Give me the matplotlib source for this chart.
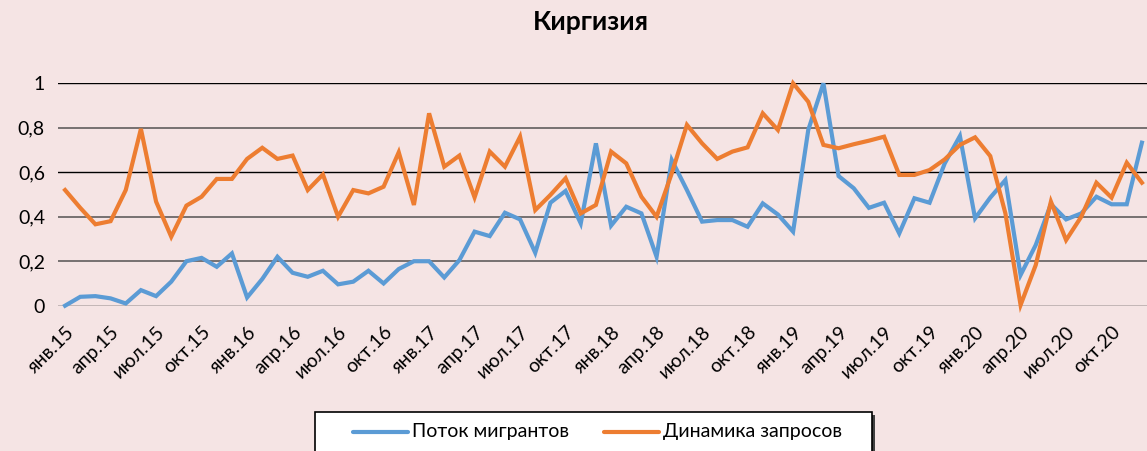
import matplotlib
matplotlib.use("Agg")
import matplotlib.pyplot as plt
import matplotlib.transforms as mtransforms
from matplotlib.patches import Rectangle
from matplotlib.lines import Line2D

plt.rcParams['font.family'] = ['Lato', 'DejaVu Sans']

title = "Киргизия"
series_names = ["Поток мигрантов", "Динамика запросов"]
month_abbr = ["янв", "фев", "мар", "апр", "май", "июн",
              "июл", "авг", "сен", "окт", "ноя", "дек"]
years = ["15", "16", "17", "18", "19", "20"]

migrants = [0.00, 0.04, 0.043, 0.033, 0.01, 0.07, 0.043, 0.108, 0.20, 0.215, 0.175, 0.235,
            0.037, 0.12, 0.22, 0.148, 0.13, 0.157, 0.096, 0.108, 0.157, 0.10, 0.165, 0.20,
            0.20, 0.127, 0.205, 0.333, 0.313, 0.418, 0.388, 0.238, 0.463, 0.516, 0.37, 0.73,
            0.36, 0.445, 0.415, 0.22, 0.655, 0.52, 0.378, 0.385, 0.385, 0.355, 0.46, 0.41,
            0.333, 0.79, 1.00, 0.583, 0.528, 0.44, 0.463, 0.325, 0.483, 0.463, 0.64, 0.763,
            0.393, 0.486, 0.565, 0.138, 0.273, 0.457, 0.388, 0.415, 0.49, 0.456, 0.456, 0.733]

queries = [0.52, 0.44, 0.366, 0.38, 0.52, 0.795, 0.468, 0.31, 0.45, 0.49, 0.57, 0.57,
           0.66, 0.71, 0.66, 0.675, 0.52, 0.59, 0.40, 0.52, 0.505, 0.535, 0.69, 0.453,
           0.865, 0.625, 0.675, 0.487, 0.693, 0.625, 0.76, 0.43, 0.498, 0.573, 0.415, 0.453,
           0.693, 0.64, 0.49, 0.40, 0.595, 0.813, 0.73, 0.66, 0.693, 0.712, 0.865, 0.79,
           1.00, 0.917, 0.723, 0.708, 0.726, 0.742, 0.76, 0.588, 0.588, 0.61, 0.658, 0.723,
           0.757, 0.673, 0.415, 0.003, 0.183, 0.468, 0.295, 0.40, 0.553, 0.486, 0.643, 0.553]

yticks = [0, 0.2, 0.4, 0.6, 0.8, 1.0]
ytick_labels = ["0", "0,2", "0,4", "0,6", "0,8", "1"]

bg = "#F5E4E4"
blue = "#5B9BD5"
orange = "#ED7D31"

W, H = 1147, 451
fig = plt.figure(figsize=(W / 100, H / 100), dpi=100, facecolor=bg)
ax = fig.add_axes([57.5 / W, (H - 305.7) / H, 1092 / W, (305.7 - 83.3) / H])
ax.set_facecolor(bg)

x = list(range(len(migrants)))
ax.plot(x, migrants, color=blue, lw=3.0, solid_joinstyle='miter', clip_on=False, zorder=3)
ax.plot(x, queries, color=orange, lw=3.0, solid_joinstyle='miter', clip_on=False, zorder=4)

ax.set_xlim(-0.5, len(migrants) - 0.5)
ax.set_ylim(0, 1)

for s in ax.spines.values():
    s.set_visible(False)
ax.set_yticks(yticks)
ax.set_yticklabels(ytick_labels)
ax.tick_params(axis='y', length=0, pad=9, labelsize=14)
for yv in yticks[1:]:
    if yv in (0.6, 1.0):
        ax.axhline(yv, color="black", lw=1.0, zorder=1)
    else:
        ax.axhline(yv, color="#767070", lw=1.4, zorder=1)
ax.axhline(0, color="black", lw=1.0, zorder=2)

xt = list(range(0, len(migrants), 3))
xlabels = [f"{month_abbr[i % 12]}.{years[i // 12]}" for i in xt]
ax.set_xticks(xt)
ax.set_xticklabels(xlabels, rotation=45, ha='right', va='center', rotation_mode='anchor')
ax.tick_params(axis='x', length=0, pad=17, labelsize=14)
offset = mtransforms.ScaledTranslation(6 / 100, 0, fig.dpi_scale_trans)
for lbl in ax.get_xticklabels():
    lbl.set_transform(lbl.get_transform() + offset)

fig.text(591 / W, 1 - 22 / H, title, ha='center', va='center', fontsize=19, fontweight='bold')

# legend box
lx0, lx1, ly0 = 315, 872, 411.7
shadow = Rectangle((lx0 / W + 3 / W, 0 - 0.01), (lx1 - lx0) / W, (H - ly0 - 3) / H + 0.01,
                   transform=fig.transFigure, facecolor="#404040", edgecolor="none", zorder=1)
box = Rectangle((lx0 / W, -0.01), (lx1 - lx0) / W, (H - ly0) / H + 0.01,
                transform=fig.transFigure, facecolor="white", edgecolor="black", lw=1.2, zorder=2)
fig.patches.extend([shadow, box])
ly = 1 - 432 / H
for (x0, x1, tx, name, col) in [(353, 408, 412, series_names[0], blue),
                                (604, 659, 663, series_names[1], orange)]:
    fig.lines.append(Line2D([x0 / W, x1 / W], [ly, ly], transform=fig.transFigure,
                            color=col, lw=3.0, solid_capstyle='round', zorder=3))
    fig.text(tx / W, ly, name, ha='left', va='center', fontsize=14, zorder=3)

fig.savefig("out.png", dpi=100, facecolor=bg)
